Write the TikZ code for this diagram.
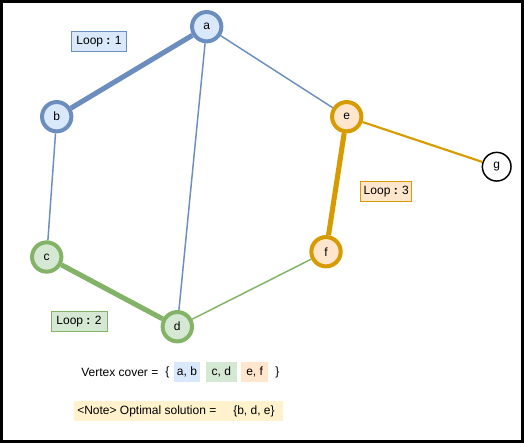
\documentclass[tikz,border=0pt]{standalone}
\usepackage{fontspec}
\setmainfont{Liberation Sans}
\definecolor{bS}{HTML}{6C8EBF}
\definecolor{bF}{HTML}{DAE8FC}
\definecolor{gS}{HTML}{82B366}
\definecolor{gF}{HTML}{D5E8D4}
\definecolor{oS}{HTML}{D79B00}
\definecolor{oF}{HTML}{FFE6CC}
\definecolor{yF}{HTML}{FFF2CC}
\begin{document}
\begin{tikzpicture}[x=0.75pt,y=-0.75pt,font=\fontsize{9}{11}\selectfont,
  vtx/.style={circle,minimum size=22pt,inner sep=0pt,line width=3pt},
  bvtx/.style={vtx,draw=bS,fill=bF},
  gvtx/.style={vtx,draw=gS,fill=gF},
  ovtx/.style={vtx,draw=oS,fill=oF},
  loopbox/.style={draw,line width=0.75pt,inner sep=0pt,minimum height=15pt},
  tagbox/.style={inner sep=0pt,minimum height=15pt},
  thin/.style={line width=1.1pt},
  thick/.style={line width=3.8pt}]
\useasboundingbox (0,0) rectangle (524,443);
\draw[line width=2.4pt] (1.6,1.6) rectangle (522.4,441.4);
% vertices
\node[bvtx] (a) at (206.7,26.7) {a};
\node[bvtx] (b) at (56.7,116.7) {b};
\node[gvtx] (c) at (46.7,257) {c};
\node[gvtx] (d) at (177.3,326.7) {d};
\node[ovtx] (e) at (346.7,116.7) {e};
\node[ovtx] (f) at (326,251.7) {f};
\node[circle,draw,line width=1.1pt,minimum size=21.5pt,inner sep=0pt] (g) at (496.7,166.7) {g};
% edges
\draw[bS,thick] (a) -- (b);
\draw[bS,thin] (a) -- (e);
\draw[bS,thin] (a) -- (d);
\draw[bS,thin] (b) -- (c);
\draw[gS,thick] (c) -- (d);
\draw[gS,thin] (d) -- (f);
\draw[oS,thick] (e) -- (f);
\draw[oS,line width=1.6pt] (e) -- (g);
% loop labels
\node[loopbox,draw=bS,fill=bF,minimum width=41.5pt] (l1) at (99,41.7) {Loop {\bfseries :} 1};
\node[loopbox,draw=gS,fill=gF,minimum width=42pt] (l2) at (79,321.3) {Loop {\bfseries :} 2};
\node[loopbox,draw=oS,fill=oF,minimum width=38pt] (l3) at (386.3,191.3) {Loop {\bfseries :} 3};
% vertex cover line
\node[anchor=west,inner sep=0pt] (vc) at (81,372) {Vertex cover =};
\node[inner sep=0pt] (lb) at (167.5,372) {\{};
\node[tagbox,fill=bF,minimum width=19.5pt] (t1) at (187,372) {a, b};
\node[tagbox,fill=gF,minimum width=23pt] (t2) at (221.3,372) {c, d};
\node[tagbox,fill=oF,minimum width=20.5pt] (t3) at (254.6,372) {e, f};
\node[inner sep=0pt] (rb) at (277.3,372) {\}};
% note
\node[tagbox,fill=yF,minimum width=157pt] (note) at (178.3,411) {};
\node[anchor=west,inner sep=0pt] (nt) at (77,411) {<Note> Optimal solution =};
\node[anchor=west,inner sep=0pt] (ns) at (233,411) {\{b, d, e\}};
\end{tikzpicture}
\end{document}
